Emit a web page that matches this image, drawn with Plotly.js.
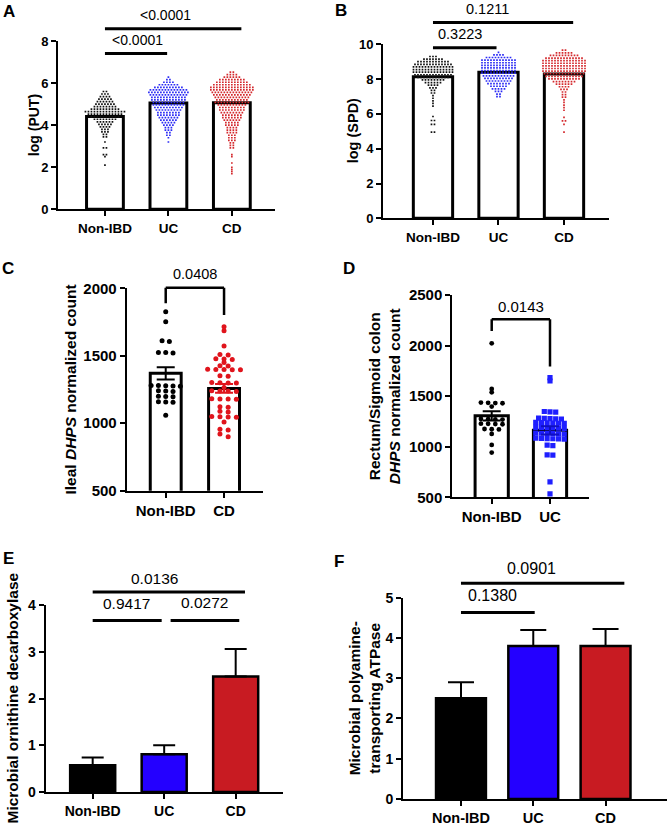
<!DOCTYPE html>
<html><head><meta charset="utf-8">
<script src="https://cdn.plot.ly/plotly-3.0.1.min.js"></script>
<style>html,body{margin:0;padding:0;background:#fff}#chart{width:668px;height:828px}</style>
</head><body><div id="chart"></div>
<script>
// ================= DATA =================
const groups3 = ['Non-IBD', 'UC', 'CD'];
const groupsC = ['Non-IBD', 'CD'];
const groupsD = ['Non-IBD', 'UC'];

// Panel A: log (PUT) – dot rows (row level, number of dots in the row)
const putNonIBDLevels = [5.6,5.48,5.36,5.24,5.12,5.0,4.88,4.76,4.64,4.52,4.4,4.28,4.16,4.04,3.92,3.8,3.68,3.56,3.44,3.2,2.92,2.6,2.5,2.1];
const putNonIBDCounts = [2,3,4,5,6,7,8,10,14,12,10,8,6,5,4,3,3,2,2,1,2,2,1,1];
const putUCLevels = [6.28,6.16,6.04,5.92,5.8,5.68,5.56,5.44,5.32,5.2,5.08,4.96,4.84,4.72,4.6,4.48,4.36,4.24,4.12,4.0,3.88,3.76,3.64,3.52,3.4,3.2];
const putUCCounts = [1,2,4,7,10,13,14,13,12,12,11,11,10,9,8,8,7,6,5,4,3,3,2,2,1,1];
const putCDLevels = [6.52,6.4,6.28,6.16,6.04,5.92,5.8,5.68,5.56,5.44,5.32,5.2,5.08,4.96,4.84,4.72,4.6,4.48,4.36,4.24,4.12,4.0,3.88,3.76,3.64,3.52,3.4,3.28,3.16,3.04,2.92,2.6,2.5,2.2,2.0,1.9,1.8,1.7];
const putCDCounts = [2,4,6,9,11,13,15,15,14,13,12,11,12,10,9,9,8,7,7,6,5,5,4,4,4,3,3,3,2,2,2,1,1,1,1,1,1,1];
const putMeans = [4.41, 5.05, 5.07];

// Panel B: log (SPD)
const spdNonIBDLevels = [9.3,9.15,9.0,8.85,8.7,8.55,8.4,8.25,8.1,7.95,7.8,7.65,7.5,7.35,7.2,7.05,6.9,6.75,6.6,6.45,5.85,5.62,5.4,4.95];
const spdNonIBDCounts = [3,7,11,13,14,14,14,13,11,8,6,4,3,2,2,1,1,1,1,1,1,2,2,2];
const spdUCLevels = [9.54,9.39,9.24,9.09,8.94,8.79,8.64,8.49,8.34,8.19,8.04,7.89,7.74,7.59,7.44,7.29,7.14,6.99];
const spdUCCounts = [1,4,9,12,12,12,12,12,12,11,10,9,8,6,5,3,2,2];
const spdCDLevels = [9.66,9.51,9.36,9.21,9.06,8.91,8.76,8.61,8.46,8.31,8.16,8.01,7.86,7.71,7.56,7.41,7.26,7.11,6.96,6.81,6.66,6.51,6.36,6.21,5.8,5.6,5.4,4.95];
const spdCDCounts = [2,6,10,13,15,15,15,15,15,14,13,11,8,6,4,3,2,2,2,1,1,1,1,1,1,2,1,1];
const spdMeans = [8.14, 8.39, 8.30];

// Panel C: Ileal DHPS normalized count
const ilealNonIBD = [1826,1752,1611,1605,1525,1525,1520,1280,1280,1278,1276,1275,1240,1238,1236,1200,1198,1196,1160,1158,1156,1060];
const ilealCD = [1715,1686,1572,1510,1506,1478,1476,1473,1450,1426,1424,1400,1399,1398,1397,1396,1352,1348,1302,1300,1299,1298,1265,1240,1239,1238,1236,1182,1180,1179,1178,1122,1118,1088,1084,1050,1048,1046,1044,1010,955,950,920,900];
const ilealMeans = [1370, 1258];
const ilealSEM = [45, 32];

// Panel D: Rectum/Sigmoid colon DHPS normalized count
const rectumNonIBD = [2022,1571,1538,1436,1434,1432,1430,1397,1274,1272,1270,1268,1228,1226,1224,1222,1175,1173,1171,1127,1018,942];
const rectumUC = [1683,1650,1348,1345,1342,1282,1280,1278,1276,1274,1240,1238,1236,1234,1232,1230,1192,1190,1188,1186,1184,1182,1135,1133,1131,1129,1127,1125,1085,1083,1081,1079,1077,1075,1015,1011,920,916,652,534];
const rectumMeans = [1305, 1162];
const rectumSEM = [45, 40];

// Panel E: Microbial ornithine decarboxylase (mean + SEM)
const odcMeans = [0.57, 0.81, 2.47];
const odcSEM = [0.17, 0.19, 0.59];

// Panel F: Microbial polyamine-transporting ATPase (mean + SEM)
const atpMeans = [2.50, 3.80, 3.80];
const atpSEM = [0.40, 0.40, 0.42];

// Significance comparisons: [lineStart, lineEnd, lineLevel, label, labelX, labelLevel]
const sigA = [[0, 0.98, 7.4, '<0.0001', 0.52, 8.03], [0, 2.15, 8.58, '<0.0001', 0.95, 9.22]];
const sigB = [[0, 0.97, 9.8, '0.3223', 0.41, 10.57], [0, 2.14, 11.26, '0.1211', 0.83, 12.03]];
// bracket: [leftX, rightX, topLevel, leftLegEnd, rightLegEnd, label, labelX, labelLevel]
const sigC = [[0, 1, 2005, 1889, 1802, '0.0408', 0.5, 2106]];
const sigD = [[0, 1, 2260, 2145, 1793, '0.0143', 0.5, 2389]];
const sigE = [[0, 0.965, 3.67, '0.9417', 0.475, 4.03], [1.09, 2.05, 3.67, '0.0272', 1.57, 4.06], [0, 2.13, 4.28, '0.0136', 0.86, 4.57]];
const sigF = [[0, 1.02, 4.63, '0.1380', 0.43, 5.05], [0, 2.26, 5.36, '0.0901', 0.97, 5.73]];

// ================= STYLE / GEOMETRY =================
const W = 668, H = 828;
const FONT = 'Arial, "Liberation Sans", Helvetica, sans-serif';
const BLACK = '#000000';
const DOT_BLUE = '#2b2bf5', DOT_RED = '#d42a2e', DOT_RED_C = '#e0141c', SQ_BLUE = '#1f1fff';
const BAR_BLUE = '#2400ff', BAR_RED = '#c81b22';

const P = {
  A: {id:'',  x0:58,    x1:275,   yTop:41,    yBot:209.3, xr:[-0.74,2.68],   yr:[0,8],       yt:[0,2,4,6,8],            cats:groups3, tick:13, cat:13.5},
  B: {id:'2', x0:383,   x1:609,   yTop:44.3,  yBot:218.3, xr:[-0.763,2.687], yr:[0,10],      yt:[0,2,4,6,8,10],         cats:groups3, tick:13, cat:13.5},
  C: {id:'3', x0:126.7, x1:263.3, yTop:288.3, yBot:490.7, xr:[-0.669,1.673], yr:[500,2000],  yt:[500,1000,1500,2000],   cats:groupsC, tick:15, cat:15},
  D: {id:'4', x0:452.3, x1:589,   yTop:295,   yBot:497.3, xr:[-0.676,1.669], yr:[500,2500],  yt:[500,1000,1500,2000,2500], cats:groupsD, tick:15, cat:15},
  E: {id:'5', x0:45.7,  x1:283.3, yTop:605,   yBot:792,   xr:[-0.657,2.666], yr:[0,4],       yt:[0,1,2,3,4],            cats:groups3, tick:14, cat:14},
  F: {id:'6', x0:403,   x1:667,   yTop:597.7, yBot:799,   xr:[-0.802,2.85],  yr:[0,5],       yt:[0,1,2,3,4,5],          cats:groups3, tick:14, cat:14.5}
};
const pxX = p => (p.x1 - p.x0) / (p.xr[1] - p.xr[0]);
const pxY = p => (p.yBot - p.yTop) / (p.yr[1] - p.yr[0]);
const yDom = (p, v) => (v - p.yr[0]) / (p.yr[1] - p.yr[0]);

// dots arranged in centred rows (Prism style)
function rowDots(levels, counts, cat, dxPx, p) {
  const xs = [], ys = [], dx = dxPx / pxX(p);
  levels.forEach((lv, i) => {
    const n = counts[i];
    for (let j = 0; j < n; j++) { xs.push(cat + (j - (n - 1) / 2) * dx); ys.push(lv); }
  });
  return {xs, ys};
}
function swarm(vals, cat, dxPx, rowPx, p) {
  const s = vals.slice().sort((a, b) => b - a);
  const rows = [];
  s.forEach(v => {
    const r = rows[rows.length - 1];
    if (r && (r[r.length - 1] - v) * pxY(p) < rowPx) r.push(v); else rows.push([v]);
  });
  const xs = [], ys = [], dx = dxPx / pxX(p);
  rows.forEach(r => r.forEach((v, j) => { xs.push(cat + (j - (r.length - 1) / 2) * dx); ys.push(v); }));
  return {xs, ys};
}

const traces = [];
const shapes = [];
const annotations = [];
const layout = {
  width: W, height: H, margin: {l:0, r:0, t:0, b:0},
  paper_bgcolor: '#ffffff', plot_bgcolor: 'rgba(0,0,0,0)',
  showlegend: false, font: {family: FONT, color: BLACK}
};

// axes
Object.values(P).forEach(p => {
  layout['xaxis' + p.id] = {
    domain: [p.x0 / W, p.x1 / W], range: p.xr, anchor: 'y' + p.id,
    tickvals: p.cats.map((c, i) => i), ticktext: p.cats,
    showline: true, linewidth: 2, linecolor: BLACK, ticks: 'outside', ticklen: 5, tickwidth: 2, tickcolor: BLACK,
    showgrid: false, zeroline: false, fixedrange: true,
    tickfont: {family: FONT, size: p.cat, color: BLACK, weight: 'bold'}
  };
  layout['yaxis' + p.id] = {
    domain: [1 - p.yBot / H, 1 - p.yTop / H], range: p.yr, anchor: 'x' + p.id,
    tickvals: p.yt, showline: true, linewidth: 2, linecolor: BLACK, ticks: 'outside', ticklen: 5, tickwidth: 2, tickcolor: BLACK,
    showgrid: false, zeroline: false, fixedrange: true,
    tickfont: {family: FONT, size: p.tick, color: BLACK, weight: 'bold'}
  };
});

function barTrace(p, means, width, fills, lineW, extra) {
  return Object.assign({
    type: 'bar', x: means.map((m, i) => i), y: means, width: width,
    xaxis: 'x' + p.id, yaxis: 'y' + p.id,
    marker: {color: fills, line: {color: BLACK, width: lineW}}, hoverinfo: 'skip'
  }, extra || {});
}
function dotTrace(p, d, color, symbol, size) {
  return {type: 'scatter', mode: 'markers', x: d.xs, y: d.ys, xaxis: 'x' + p.id, yaxis: 'y' + p.id,
    marker: {color: color, symbol: symbol, size: size, line: {width: 0}}, hoverinfo: 'skip'};
}
function semTrace(p, idx, mean, sem, color, w) {
  return {type: 'scatter', mode: 'markers', x: [idx], y: [mean], xaxis: 'x' + p.id, yaxis: 'y' + p.id,
    marker: {size: 1, opacity: 0}, hoverinfo: 'skip',
    error_y: {type: 'data', array: [sem], color: color, thickness: 2, width: w}};
}
function hline(p, x0, x1, v, w) {
  const f = yDom(p, v);
  shapes.push({type: 'line', xref: 'x' + p.id, yref: 'y' + p.id + ' domain', x0: x0, x1: x1, y0: f, y1: f,
    line: {color: BLACK, width: w}});
}
function vline(p, x, v0, v1, w) {
  shapes.push({type: 'line', xref: 'x' + p.id, yref: 'y' + p.id + ' domain', x0: x, x1: x, y0: yDom(p, v0), y1: yDom(p, v1),
    line: {color: BLACK, width: w}});
}
function ptext(p, text, x, v, size) {
  annotations.push({xref: 'x' + p.id, yref: 'y' + p.id + ' domain', x: x, y: yDom(p, v), text: text, showarrow: false,
    xanchor: 'center', yanchor: 'middle', font: {family: FONT, size: size, color: BLACK}});
}
function ytitle(p, text, xPx, size) {
  annotations.push({xref: 'paper', yref: 'y' + p.id + ' domain', x: xPx / W, y: 0.5, text: text, textangle: -90,
    showarrow: false, xanchor: 'center', yanchor: 'middle', font: {family: FONT, size: size, color: BLACK, weight: 'bold'}});
}
function letter(t, xPx, yPx) {
  annotations.push({xref: 'paper', yref: 'paper', x: xPx / W, y: 1 - yPx / H, text: '<b>' + t + '</b>', showarrow: false,
    xanchor: 'center', yanchor: 'middle', font: {family: FONT, size: 17, color: BLACK}});
}

// ----- Panel A -----
traces.push(barTrace(P.A, putMeans, 0.58, '#ffffff', 3));
traces.push(dotTrace(P.A, rowDots(putNonIBDLevels, putNonIBDCounts, 0, 3, P.A), '#111111', 'square', 1.7));
traces.push(dotTrace(P.A, rowDots(putUCLevels, putUCCounts, 1, 3, P.A), DOT_BLUE, 'square', 1.7));
traces.push(dotTrace(P.A, rowDots(putCDLevels, putCDCounts, 2, 3, P.A), DOT_RED, 'square', 1.7));
sigA.forEach(s => { hline(P.A, s[0], s[1], s[2], 3); ptext(P.A, s[3], s[4], s[5], 14); });

// ----- Panel B -----
traces.push(barTrace(P.B, spdMeans, 0.60, '#ffffff', 3));
traces.push(dotTrace(P.B, rowDots(spdNonIBDLevels, spdNonIBDCounts, 0, 3, P.B), '#111111', 'square', 1.7));
traces.push(dotTrace(P.B, rowDots(spdUCLevels, spdUCCounts, 1, 3, P.B), DOT_BLUE, 'square', 1.7));
traces.push(dotTrace(P.B, rowDots(spdCDLevels, spdCDCounts, 2, 3, P.B), DOT_RED, 'square', 1.7));
sigB.forEach(s => { hline(P.B, s[0], s[1], s[2], 3); ptext(P.B, s[3], s[4], s[5], 14.5); });

// ----- Panel C -----
traces.push(barTrace(P.C, ilealMeans, 0.53, '#ffffff', 3));
traces.push(dotTrace(P.C, swarm(ilealNonIBD, 0, 7.3, 3, P.C), '#000000', 'circle', 5));
traces.push(dotTrace(P.C, swarm(ilealCD, 1, 8.2, 3, P.C), DOT_RED_C, 'circle', 5));
traces.push(semTrace(P.C, 0, ilealMeans[0], ilealSEM[0], '#000000', 9));
traces.push(semTrace(P.C, 1, ilealMeans[1], ilealSEM[1], DOT_RED_C, 9));
sigC.forEach(s => { hline(P.C, s[0], s[1], s[2], 2.5); vline(P.C, s[0], s[3], s[2], 2.5); vline(P.C, s[1], s[4], s[2], 2.5); ptext(P.C, s[5], s[6], s[7], 14.5); });

// ----- Panel D -----
traces.push(barTrace(P.D, rectumMeans, 0.57, '#ffffff', 3));
traces.push(dotTrace(P.D, swarm(rectumNonIBD, 0, 7.2, 3, P.D), '#000000', 'circle', 4.8));
traces.push(dotTrace(P.D, swarm(rectumUC, 1, 5.7, 3, P.D), SQ_BLUE, 'square', 5.2));
traces.push(semTrace(P.D, 0, rectumMeans[0], rectumSEM[0], '#000000', 9));
traces.push(semTrace(P.D, 1, rectumMeans[1], rectumSEM[1], '#1010c0', 9));
sigD.forEach(s => { hline(P.D, s[0], s[1], s[2], 2.5); vline(P.D, s[0], s[3], s[2], 2.5); vline(P.D, s[1], s[4], s[2], 2.5); ptext(P.D, s[5], s[6], s[7], 15); });

// ----- Panel E -----
traces.push(barTrace(P.E, odcMeans, 0.63, [BLACK, BAR_BLUE, BAR_RED], 2.5,
  {error_y: {type: 'data', symmetric: false, array: odcSEM, arrayminus: odcSEM.map(() => 0), color: BLACK, thickness: 2, width: 11}}));
sigE.forEach(s => { hline(P.E, s[0], s[1], s[2], 3); ptext(P.E, s[3], s[4], s[5], 15.5); });

// ----- Panel F -----
traces.push(barTrace(P.F, atpMeans, 0.69, [BLACK, BAR_BLUE, BAR_RED], 2.5,
  {error_y: {type: 'data', symmetric: false, array: atpSEM, arrayminus: atpSEM.map(() => 0), color: BLACK, thickness: 2, width: 13}}));
sigF.forEach(s => { hline(P.F, s[0], s[1], s[2], 3); ptext(P.F, s[3], s[4], s[5], 16); });

// ----- titles & panel letters -----
ytitle(P.A, 'log (PUT)', 34, 14);
ytitle(P.B, 'log (SPD)', 353, 14.5);
ytitle(P.C, 'Ileal <i>DHPS</i> normalized count', 70, 15.5);
ytitle(P.D, 'Rectum/Sigmoid colon<br><i>DHPS</i> normalized count', 384, 15.5);
ytitle(P.E, 'Microbial ornithine decarboxylase', 12, 15.5);
ytitle(P.F, 'Microbial polyamine-<br>transporting ATPase', 364, 15.5);
letter('A', 9, 12); letter('B', 341, 11); letter('C', 8, 268);
letter('D', 349, 268); letter('E', 8, 558); letter('F', 339, 561);

layout.shapes = shapes;
layout.annotations = annotations;
Plotly.newPlot('chart', traces, layout, {staticPlot: true, displayModeBar: false});
</script>
</body></html>
